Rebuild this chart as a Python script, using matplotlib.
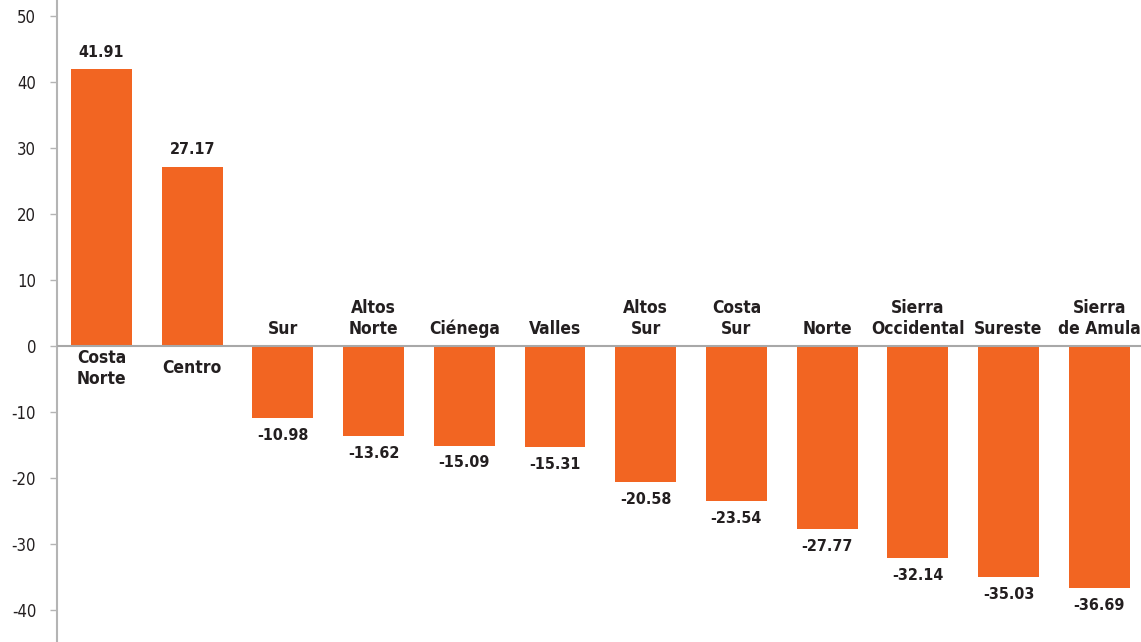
import matplotlib
matplotlib.use("Agg")
import matplotlib.pyplot as plt

regions = ["Costa\nNorte", "Centro", "Sur", "Altos\nNorte", "Ciénega", "Valles",
           "Altos\nSur", "Costa\nSur", "Norte", "Sierra\nOccidental", "Sureste",
           "Sierra\nde Amula"]
values = [41.91, 27.17, -10.98, -13.62, -15.09, -15.31, -20.58, -23.54,
          -27.77, -32.14, -35.03, -36.69]
yticks = [50, 40, 30, 20, 10, 0, -10, -20, -30, -40]

BAR = "#f26522"
TXT = "#231f20"
FONT = ["DejaVu Sans"]
STRETCH = "condensed"

fig = plt.figure(figsize=(11.41, 6.42), dpi=100)
ax = fig.add_axes([57 / 1141, 0, 1 - 57 / 1141, 1])

x = list(range(len(values)))
ax.bar(x, values, width=0.67, color=BAR, zorder=2)
ax.axhline(0, color="#a8a8a8", lw=1.5, zorder=3)

common = dict(ha="center", fontweight="bold", color=TXT, family=FONT,
              fontstretch=STRETCH, textcoords="offset points")
for xi, v, name in zip(x, values, regions):
    lbl = f"{v:.2f}"
    if v >= 0:
        ax.annotate(lbl, (xi, v), xytext=(0, 7), va="bottom", fontsize=11.5, **common)
        ax.annotate(name, (xi, 0), xytext=(0, -16), va="center", fontsize=12.5,
                    linespacing=1.2, **common)
    else:
        ax.annotate(lbl, (xi, v), xytext=(0, -7), va="top", fontsize=11.5, **common)
        ax.annotate(name, (xi, 0), xytext=(0, 6), va="bottom", fontsize=12.5,
                    linespacing=1.2, **common)

ax.set_xlim(-0.49, 11.46)
ax.set_ylim(-44.85, 52.4)
ax.set_yticks(yticks)
ax.set_yticklabels([str(t) for t in yticks], family=FONT, fontstretch=STRETCH,
                   fontsize=12, color=TXT)
ax.set_xticks([])
for s in ["top", "right", "bottom"]:
    ax.spines[s].set_visible(False)
ax.spines["left"].set_color("#b4b4b4")
ax.spines["left"].set_linewidth(1.5)
ax.tick_params(axis="y", length=5, width=1, color="#b4b4b4", pad=10)

fig.savefig("out.png", dpi=100)
